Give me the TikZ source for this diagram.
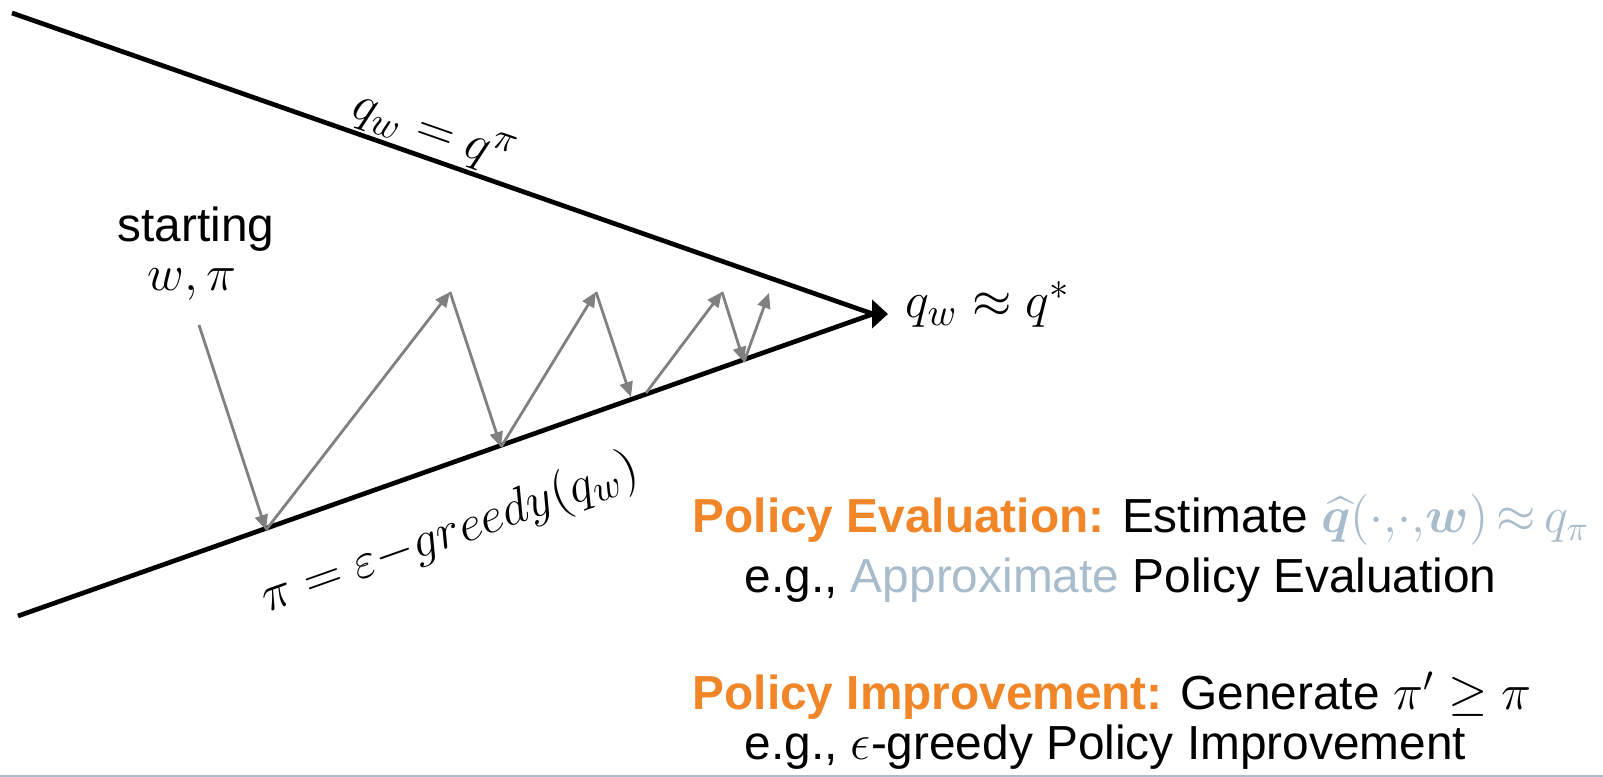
\documentclass[tikz,border=0pt]{standalone}
\usepackage{amsmath,amssymb,bm}
\usepackage[no-math]{fontspec}
\setmainfont{Liberation Sans}
\usetikzlibrary{positioning,arrows.meta}
\definecolor{peorange}{RGB}{240,134,40}
\definecolor{approxblue}{RGB}{168,188,203}
\definecolor{stepgray}{RGB}{128,128,128}

\begin{document}
\begin{tikzpicture}[
  x=0.1mm, y=-0.1mm,
  bound/.style={line width=0.47mm},
  iter/.style={draw=stepgray,line width=0.28mm,-{Triangle[length=1.5mm,width=1.3mm]}},
  lbl/.style={font=\fontsize{15.5}{18}\selectfont},
  txt/.style={anchor=base west,inner sep=0pt,font=\fontsize{13.6}{16}\selectfont}
]
\useasboundingbox (0,0) rectangle (1603,777);
% the two bounds meeting at the optimum
\coordinate (tl) at (12,13);
\coordinate (bl) at (18,616);
\coordinate (apex) at (873,314);
\coordinate (tip) at (888,314);
\draw[bound] (tl) -- node[lbl,above,sloped,pos=0.48,inner sep=0.5pt] (qpi) {$q_w = q^\pi$} (apex);
\draw[bound] (bl) -- node[lbl,below=3.6mm,sloped,pos=0.48,inner sep=1pt] (pol) {$\pi = \varepsilon{-}greedy(q_w)$} (apex);
\draw[bound,-{Triangle[length=1.6mm,width=2.8mm]}] (apex) -- (tip);
\node[lbl,anchor=base west,inner sep=0pt] (qstar) at (905,318) {$q_w \approx q^*$};

\node[txt,anchor=base] (start) at (196,242) {starting};
\node[lbl,anchor=base,inner sep=0pt] (wpi) at (192,291) {$w,\pi$};

% zig-zag of evaluation / improvement steps
\coordinate (s0) at (199,325);
\coordinate (p1) at (266,530);
\coordinate (t1) at (450,292);
\coordinate (p2) at (501,447);
\coordinate (t2) at (596,292);
\coordinate (p3) at (631,397);
\coordinate (p3b) at (646,393);
\coordinate (t3) at (722,292);
\coordinate (p4) at (744,362);
\coordinate (t4) at (769,293);
\foreach \a/\b in {s0/p1,p1/t1,t1/p2,p2/t2,t2/p3,p3b/t3,t3/p4,p4/t4}
  \draw[iter] (\a) -- (\b);

\node[txt] (pe) at (692,533) {\textcolor{peorange}{\bfseries Policy Evaluation:} Estimate \textcolor{approxblue}{$\widehat{\bm q}({\cdot}{,}{\cdot}{,}\bm w)\mskip3mu{\approx}\mskip3mu q_\pi$}};
\node[txt] (pe2) at (744,593) {e.g., \textcolor{approxblue}{Approximate} Policy Evaluation};
\node[txt] (pim) at (692,710) {\textcolor{peorange}{\bfseries Policy Improvement:} Generate $\pi' \geq \pi$};
\node[txt] (pim2) at (744,760) {e.g., $\epsilon$-greedy Policy Improvement};

\draw[approxblue,line width=0.2mm] (0,776) -- (1603,776);
\end{tikzpicture}
\end{document}
